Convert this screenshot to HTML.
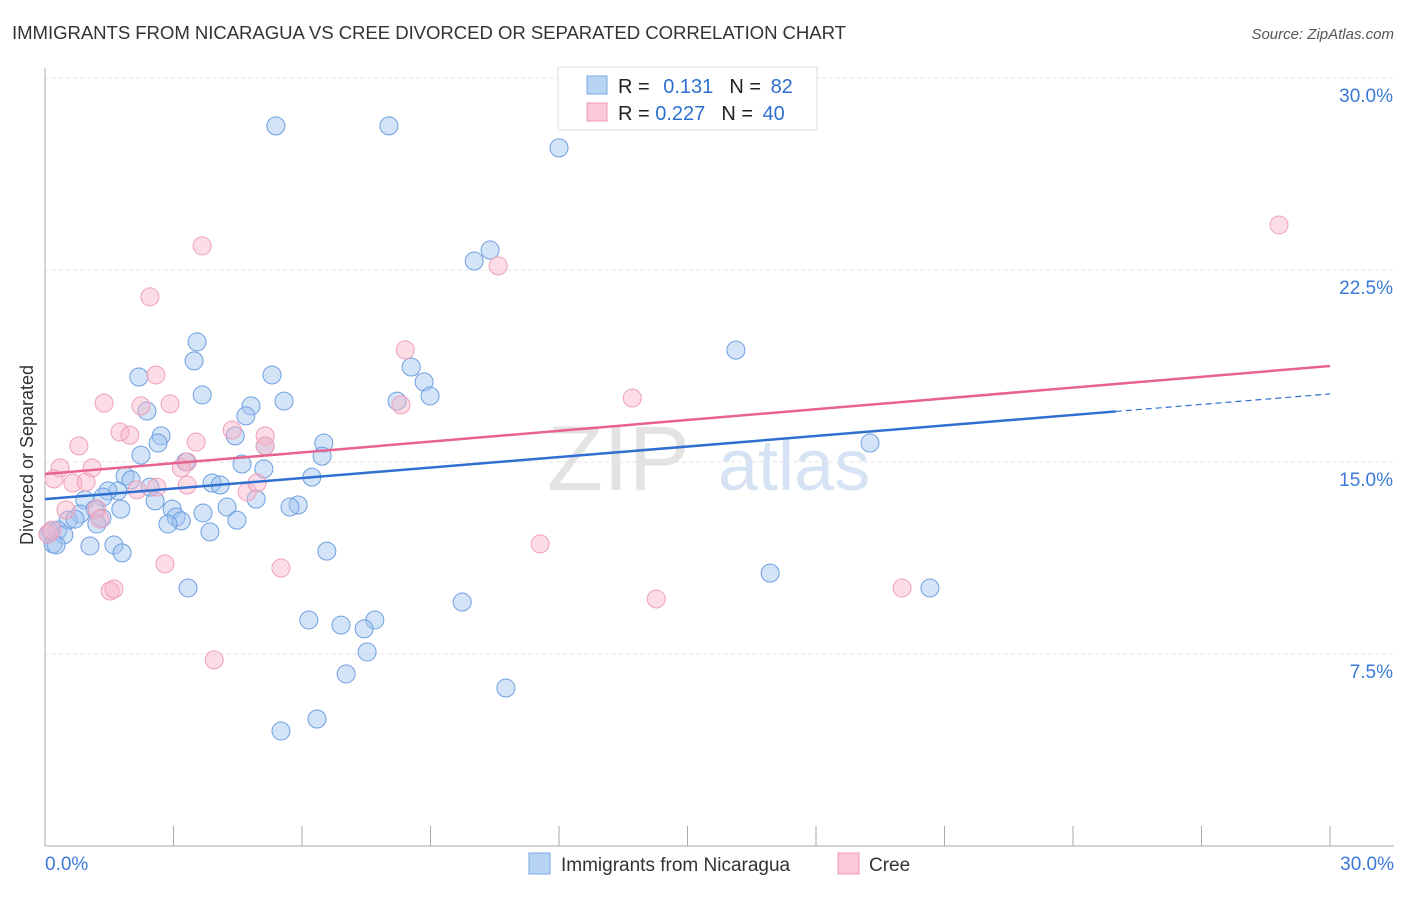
<!DOCTYPE html>
<html><head><meta charset="utf-8"><style>
body{margin:0;background:#fff;font-family:"Liberation Sans",sans-serif;}
svg text{font-family:"Liberation Sans",sans-serif;}
</style></head><body>
<svg id="c" width="1406" height="892">
<text x="12" y="39" font-size="18.6" fill="#333" textLength="834">IMMIGRANTS FROM NICARAGUA VS CREE DIVORCED OR SEPARATED CORRELATION CHART</text>
<text x="1394" y="39" font-size="15" fill="#555" font-style="italic" text-anchor="end">Source: ZipAtlas.com</text>
<text x="33" y="455" font-size="18" fill="#333" text-anchor="middle" transform="rotate(-90 33 455)">Divorced or Separated</text>
<g><text x="690" y="490" font-size="92" fill="#ddd" font-family="Liberation Serif" text-anchor="end" opacity="0.8">ZIP</text><text x="718" y="490" font-size="72" fill="#c5d8f0" opacity="0.7">atlas</text></g>
<g id="grid"></g><g id="pts"></g><g id="lines"></g>
<g>
<rect x="558" y="67" width="259" height="63" fill="#fff" stroke="#ddd"/>
<rect x="587" y="76" width="20" height="18" fill="#b8d4f5" stroke="#7aa7e6"/>
<rect x="587" y="103" width="20" height="18" fill="#fac8d8" stroke="#f09ab5"/>
<text x="618" y="93" font-size="20" fill="#222">R = <tspan fill="#2f6fd0" dx="8">0.131</tspan><tspan fill="#222" dx="16">N = </tspan><tspan fill="#2f6fd0" dx="4">82</tspan></text>
<text x="618" y="120" font-size="20" fill="#222">R = <tspan fill="#2f6fd0">0.227</tspan><tspan fill="#222" dx="16">N = </tspan><tspan fill="#2f6fd0" dx="4">40</tspan></text>
</g>
<g>
<rect x="529" y="853" width="21" height="21" fill="#b8d4f5" stroke="#7aa7e6"/>
<text x="561" y="871" font-size="19" fill="#333">Immigrants from Nicaragua</text>
<rect x="838" y="853" width="21" height="21" fill="#fac8d8" stroke="#f09ab5"/>
<text x="869" y="871" font-size="19" fill="#333">Cree</text>
</g>
</svg>
<script>
const blue=[[5.39,28.13],[8.03,28.13],[12.0,27.27],[10.39,23.28],[10.02,22.85],[16.13,19.37],[3.55,19.69],[3.48,18.95],[2.19,18.32],[5.30,18.40],[8.55,18.71],[8.85,18.13],[3.67,17.62],[8.99,17.58],[5.58,17.38],[8.22,17.38],[2.38,16.99],[4.81,17.19],[4.69,16.80],[2.71,16.02],[4.44,16.02],[2.64,15.74],[6.51,15.74],[5.14,15.63],[2.24,15.27],[6.47,15.23],[19.26,15.74],[3.29,15.0],[4.60,14.92],[5.11,14.73],[1.87,14.45],[6.23,14.41],[2.01,14.30],[2.45,14.02],[3.90,14.18],[4.09,14.10],[1.70,13.87],[1.47,13.87],[1.35,13.63],[0.93,13.52],[2.57,13.48],[4.93,13.55],[5.91,13.32],[5.72,13.24],[4.25,13.24],[2.97,13.16],[3.69,13.01],[1.17,13.16],[0.82,12.97],[1.77,13.16],[0.54,12.73],[0.70,12.77],[1.33,12.81],[3.06,12.85],[3.18,12.70],[2.87,12.58],[4.48,12.73],[1.21,12.58],[0.30,12.34],[0.12,12.27],[0.44,12.15],[0.19,11.80],[0.26,11.76],[3.85,12.27],[1.05,11.72],[1.61,11.76],[1.80,11.45],[6.58,11.52],[16.93,10.66],[3.34,10.08],[20.66,10.08],[9.74,9.53],[6.16,8.83],[6.91,8.63],[7.70,8.83],[7.45,8.48],[7.52,7.58],[7.03,6.72],[10.76,6.17],[6.35,4.96],[5.51,4.49],[0.07,12.19]];
const pink=[[28.81,24.26],[3.67,23.44],[10.58,22.66],[2.45,21.45],[8.41,19.38],[2.59,18.40],[13.71,17.50],[1.38,17.30],[2.92,17.27],[2.24,17.19],[8.31,17.23],[1.75,16.17],[1.98,16.05],[4.37,16.25],[5.14,16.02],[5.14,15.63],[0.79,15.63],[3.53,15.78],[3.32,15.0],[0.35,14.77],[1.10,14.77],[3.18,14.77],[0.21,14.34],[0.65,14.18],[0.96,14.22],[3.32,14.10],[2.15,13.91],[4.72,13.83],[4.95,14.18],[2.61,14.02],[0.49,13.13],[1.21,13.16],[1.28,12.77],[11.56,11.80],[2.80,11.02],[5.51,10.86],[1.52,9.96],[1.61,10.04],[14.27,9.65],[20.01,10.08],[3.95,7.27],[0.07,12.19],[0.16,12.34]];
const blueTrend=[13.55,17.66];
const pinkTrend=[14.53,18.75];
const yTicks=[7.5,15.0,22.5,30.0];
const yTickLabels=["7.5%","15.0%","22.5%","30.0%"];
const xTicks=[0,3,6,9,12,15,18,21,24,27,30];
const xLabels=["0.0%","30.0%"];
const X=v=>45+v/30*1285, Y=v=>846-v/30*768;
const NS="http://www.w3.org/2000/svg";
function mk(t,a,p){const e=document.createElementNS(NS,t);for(const k in a)e.setAttribute(k,a[k]);p.appendChild(e);return e;}
const g=document.getElementById('grid');
yTicks.forEach((v,i)=>{
 const l=mk('line',{x1:45,x2:1394,y1:Y(v),y2:Y(v),stroke:'#e3e3e3','stroke-dasharray':'4,3'},g);
 
 
 const t=mk('text',{x:1393,y:Y(v)+24,'font-size':19,fill:'#3b78d8','text-anchor':'end'},g);t.textContent=yTickLabels[i];
 
 
});
const ax=mk('line',{x1:45,x2:45,y1:68,y2:846,stroke:'#aaa'},g);


const bx=mk('line',{x1:45,x2:1394,y1:846,y2:846,stroke:'#aaa'},g);


xTicks.forEach(v=>{const l=mk('line',{x1:X(v),x2:X(v),y1:826,y2:846,stroke:'#aaa'},g);
 
 });
[[0,'start',45],[30,'end',1394]].forEach((d,i)=>{const t=mk('text',{x:d[2],y:870,'font-size':19,fill:'#3b78d8','text-anchor':d[1]},g);t.textContent=xLabels[i];
 
 });
const P=document.getElementById('pts');
blue.forEach(d=>{const c=mk('circle',{cx:X(d[0]),cy:Y(d[1]),r:9,fill:'rgba(160,196,240,0.45)',stroke:'#6d9fe0','stroke-width':1},P);
 
 });
pink.forEach(d=>{const c=mk('circle',{cx:X(d[0]),cy:Y(d[1]),r:9,fill:'rgba(248,180,200,0.45)',stroke:'#f0a0ba','stroke-width':1},P);
 
 });
const L=document.getElementById('lines');
const bAt=x=>blueTrend[0]+(blueTrend[1]-blueTrend[0])*x/30;
let l1=mk('line',{x1:X(0),y1:Y(bAt(0)),x2:X(25),y2:Y(bAt(25)),stroke:'#2f6fd0','stroke-width':2.5},L);


let l2=mk('line',{x1:X(25),y1:Y(bAt(25)),x2:X(30),y2:Y(bAt(30)),stroke:'#2f6fd0','stroke-width':1.2,'stroke-dasharray':'6,4'},L);


let l3=mk('line',{x1:X(0),y1:Y(pinkTrend[0]),x2:X(30),y2:Y(pinkTrend[1]),stroke:'#e8628f','stroke-width':2.5},L);


</script>
</body></html>
